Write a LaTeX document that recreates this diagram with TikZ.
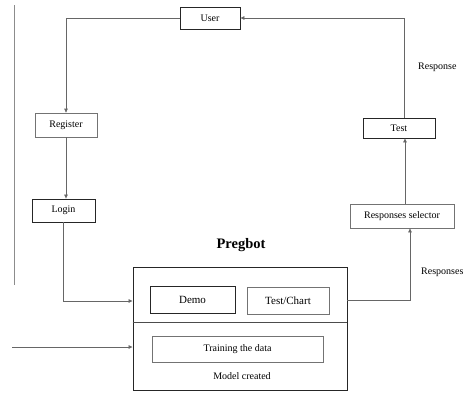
\documentclass[tikz,border=0pt]{standalone}
\usepackage{fontspec}
\setmainfont{Liberation Serif}
\usetikzlibrary{arrows.meta}
\begin{document}
\begin{tikzpicture}[x=1pt,y=-1pt,
  box/.style={draw=black!85,line width=0.8pt,inner sep=0pt,font=\fontsize{10}{11}\selectfont},
  lbox/.style={draw=black!55,line width=0.7pt,inner sep=0pt,font=\fontsize{10}{11}\selectfont},
  big/.style={font=\fontsize{11}{12}\selectfont},
  conn/.style={draw=black!60,line width=0.7pt},
  arr/.style={conn,-{Triangle[length=4pt,width=3.5pt]}},
  lbl/.style={font=\fontsize{10}{11}\selectfont,inner sep=0pt}]
\useasboundingbox (0,0) rectangle (467,392);
% nodes
\node[box,minimum width=60pt,minimum height=22pt] (user) at (210,18) {User};
\node[lbox,minimum width=62pt,minimum height=24pt] (reg) at (66,125) {Register};
\node[box,minimum width=63pt,minimum height=23pt] (login) at (63.5,210.5) {Login};
\node[box,minimum width=72pt,minimum height=20pt] (test) at (399,128) {Test};
\node[lbox,minimum width=104pt,minimum height=24pt] (sel) at (402,216) {Responses selector};
\node[font=\bfseries\fontsize{14.5}{16}\selectfont] (title) at (241,245) {Pregbot};
\node[draw=black!85,line width=0.9pt,minimum width=214pt,minimum height=123pt,inner sep=0pt] (pb) at (240,328.5) {};
\draw[black!70,line width=0.7pt] (pb.west |- 0,322) coordinate (divl) -- (pb.east |- 0,322) coordinate (divr);
\node[box,big,minimum width=85pt,minimum height=27pt] (demo) at (192.5,299.5) {Demo};
\node[lbox,big,minimum width=82pt,minimum height=27pt] (chart) at (288,300.5) {Test/Chart};
\node[lbox,minimum width=171pt,minimum height=26pt] (train) at (237.5,349) {Training the data};
\node[lbl] (model) at (242,376) {Model created};
\node[lbl,anchor=west] (resp1) at (418,67) {Response};
\node[lbl,anchor=west] (resp2) at (421,272) {Responses};
% free ends
\coordinate (ltop) at (14,5);
\coordinate (lbot) at (14,285);
\coordinate (inl) at (12,347);
% connectors
\draw[arr] (user.west) -| (reg.north);
\draw[arr] (reg.south) -- (reg.south |- login.north);
\draw[arr] (login.south) |- (pb.west |- 0,301);
\draw[arr] (inl) -- (pb.west |- inl);
\draw[arr] (pb.east |- 0,300) -| (sel.south -| 410,0);
\draw[arr] (sel.north -| 405,0) -- (test.south -| 405,0);
\draw[arr] (test.north -| 404,0) |- (user.east);
\draw[conn,black!45] (ltop) -- (lbot);
\end{tikzpicture}
\end{document}
